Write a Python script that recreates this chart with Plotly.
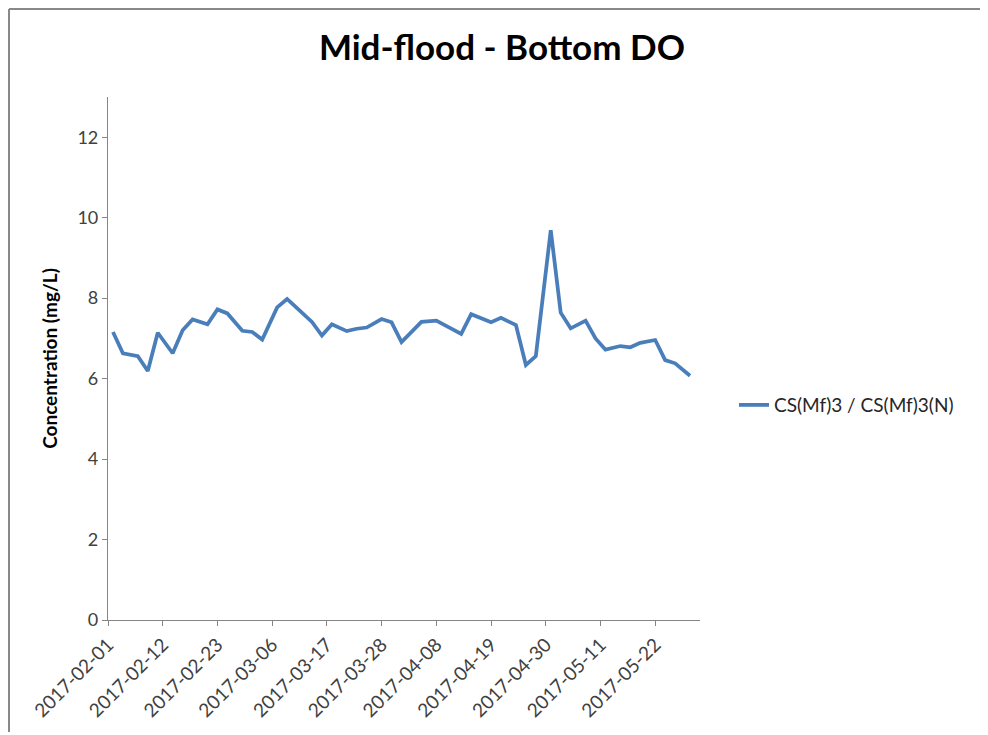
import plotly.graph_objects as go

dates = [
    "2017-02-01", "2017-02-03", "2017-02-06", "2017-02-08", "2017-02-10", "2017-02-13",
    "2017-02-15", "2017-02-17", "2017-02-20", "2017-02-22", "2017-02-24", "2017-02-27",
    "2017-03-01", "2017-03-03", "2017-03-06", "2017-03-08", "2017-03-10", "2017-03-13",
    "2017-03-15", "2017-03-17", "2017-03-20", "2017-03-22", "2017-03-24", "2017-03-27",
    "2017-03-29", "2017-03-31", "2017-04-04", "2017-04-07", "2017-04-12", "2017-04-14",
    "2017-04-18", "2017-04-20", "2017-04-23", "2017-04-25", "2017-04-27", "2017-04-30",
    "2017-05-02", "2017-05-04", "2017-05-07", "2017-05-09", "2017-05-11", "2017-05-14",
    "2017-05-16", "2017-05-18", "2017-05-21", "2017-05-23", "2017-05-25", "2017-05-28",
]
do_values = [
    7.16, 6.63, 6.56, 6.19, 7.14, 6.63,
    7.20, 7.47, 7.35, 7.72, 7.62, 7.19,
    7.16, 6.97, 7.77, 7.98, 7.75, 7.41,
    7.07, 7.35, 7.18, 7.24, 7.27, 7.48,
    7.40, 6.91, 7.41, 7.44, 7.11, 7.60,
    7.40, 7.51, 7.33, 6.34, 6.56, 9.69,
    7.64, 7.25, 7.44, 7.00, 6.72, 6.81,
    6.78, 6.89, 6.96, 6.46, 6.38, 6.07,
]
series_name = "CS(Mf)3 / CS(Mf)3(N)"
tick_dates = ["2017-02-01", "2017-02-12", "2017-02-23", "2017-03-06", "2017-03-17",
              "2017-03-28", "2017-04-08", "2017-04-19", "2017-04-30", "2017-05-11",
              "2017-05-22"]

FONT = "Lato, Open Sans, sans-serif"
AXC = "#868686"
BORDER = "#888888"

fig = go.Figure()
fig.add_trace(go.Scatter(
    x=dates, y=do_values, mode="lines", name=series_name,
    line=dict(color="#4A7EBB", width=3.75),
    xperiod=86400000, xperiodalignment="end",
))

fig.update_layout(
    width=980, height=727,
    margin=dict(l=100, r=288, t=89, b=115),
    paper_bgcolor="white", plot_bgcolor="white",
    font=dict(family=FONT, color="#404040", size=16),
    title=dict(text="<b>Mid-flood - Bottom DO</b>", x=0.504, xanchor="center",
               y=0.946, yanchor="middle",
               font=dict(family=FONT, size=35, color="black")),
    showlegend=True,
    legend=dict(x=1.0574, y=0.411, xanchor="left", yanchor="middle",
                font=dict(family=FONT, size=19, color="#262626"),
                bgcolor="rgba(0,0,0,0)"),
    xaxis=dict(
        type="date", range=["2017-02-01", "2017-05-31"],
        tickvals=tick_dates, ticktext=tick_dates, tickangle=-45,
        showgrid=False, zeroline=False,
        showline=True, linecolor=AXC, linewidth=1.2,
        ticks="outside", ticklen=5, tickcolor=AXC,
        tickfont=dict(family=FONT, size=19, color="#404040"),
    ),
    yaxis=dict(
        range=[0, 13], tickvals=[0, 2, 4, 6, 8, 10, 12],
        showgrid=False, zeroline=False,
        showline=True, linecolor=AXC, linewidth=1.2,
        ticks="outside", ticklen=5, tickcolor=AXC,
        tickfont=dict(family=FONT, size=18, color="#404040"),
        title=dict(text="<b>Concentration (mg/L)</b>", standoff=14,
                   font=dict(family=FONT, size=19, color="black")),
    ),
    shapes=[
        dict(type="line", xref="paper", yref="paper",
             x0=-0.1672, x1=1.4865, y0=1.1683, y1=1.1683,
             line=dict(color=BORDER, width=2), layer="below"),
        dict(type="line", xref="paper", yref="paper",
             x0=-0.1672, x1=-0.1672, y0=-0.2141, y1=1.1683,
             line=dict(color=BORDER, width=2), layer="below"),
    ],
)

fig.write_html("out.html")
